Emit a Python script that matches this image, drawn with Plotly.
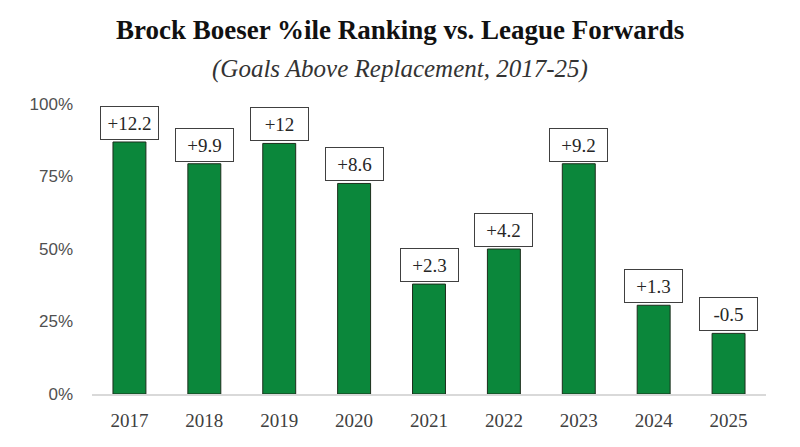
import plotly.graph_objects as go

years = ["2017", "2018", "2019", "2020", "2021", "2022", "2023", "2024", "2025"]
pct_rank = [0.869, 0.794, 0.864, 0.726, 0.379, 0.500, 0.794, 0.306, 0.209]
gar_labels = ["+12.2", "+9.9", "+12", "+8.6", "+2.3", "+4.2", "+9.2", "+1.3", "-0.5"]

y_ticks = [0, 0.25, 0.5, 0.75, 1.0]
y_tick_text = ["0%", "25%", "50%", "75%", "100%"]

fig = go.Figure(go.Bar(
    x=years, y=pct_rank,
    marker=dict(color="#0b873b", line=dict(color="#1c2e1c", width=1)),
    hoverinfo="skip",
))

# GAR value boxes sitting above each bar (category index positions)
for i, (v, lab) in enumerate(zip(pct_rank, gar_labels)):
    fig.add_annotation(
        x=i, y=v, text=lab, showarrow=False,
        yanchor="bottom", yshift=2,
        width=55, height=30, align="center", valign="middle",
        font=dict(family="Liberation Serif", size=19, color="#262626"),
        bordercolor="#404040", borderwidth=1, borderpad=1, bgcolor="white",
    )

# page body has an 8px margin, so margins are shifted to compensate
plot_h = 290
title_x = (400 - 92) / 674
fig.add_annotation(
    xref="paper", yref="paper", x=title_x, y=1 + 74 / plot_h,
    text="<b>Brock Boeser %ile Ranking vs. League Forwards</b>",
    showarrow=False, xanchor="center", yanchor="middle",
    font=dict(family="Liberation Serif", size=27, color="#111111"),
)
fig.add_annotation(
    xref="paper", yref="paper", x=title_x, y=1 + 35 / plot_h,
    text="<i>(Goals Above Replacement, 2017-25)</i>",
    showarrow=False, xanchor="center", yanchor="middle",
    font=dict(family="Liberation Serif", size=25, color="#333333"),
)

fig.update_layout(
    width=800, height=447,
    margin=dict(l=84, r=42, t=96, b=61),
    paper_bgcolor="white", plot_bgcolor="white",
    bargap=0.56, showlegend=False,
)
fig.update_xaxes(
    type="category", range=[-0.5, len(years) - 0.5],
    showline=True, linecolor="#d9d9d9", linewidth=1.5,
    ticks="", ticklabelstandoff=8,
    tickfont=dict(family="Liberation Serif", size=19, color="#404040"),
)
fig.update_yaxes(
    range=[0, 1], tickvals=y_ticks, ticktext=y_tick_text,
    showgrid=False, zeroline=False, showline=False, ticks="",
    ticklabelstandoff=18,
    tickfont=dict(family="Liberation Sans", size=17, color="#505050"),
)

fig.write_html("out.html")
